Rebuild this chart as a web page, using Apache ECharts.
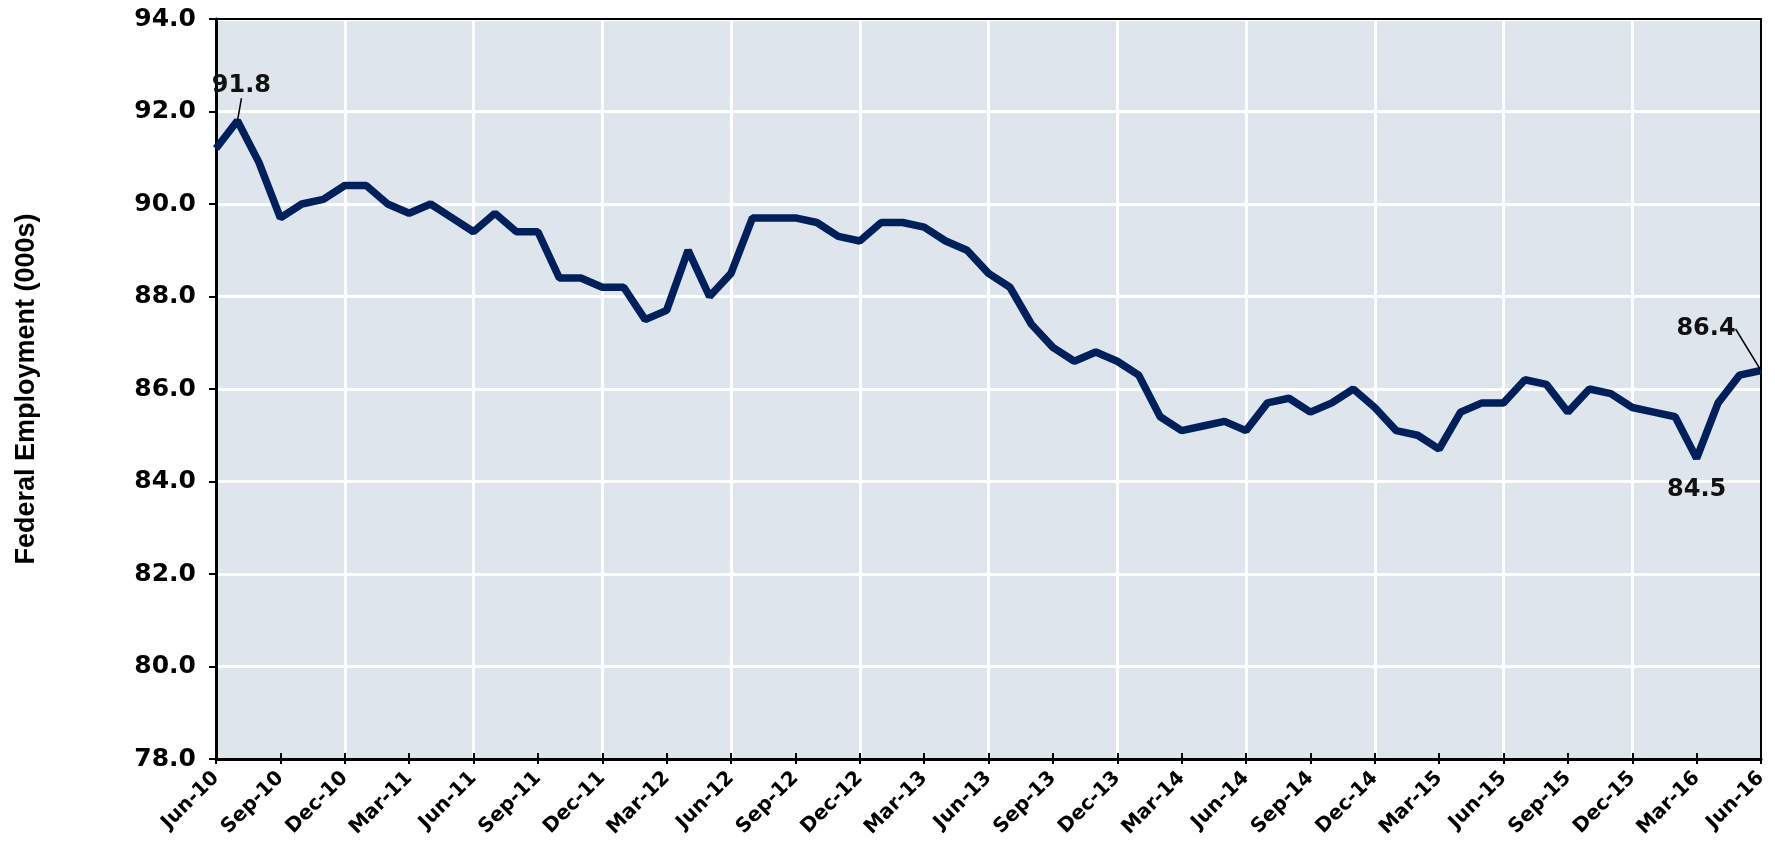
<!DOCTYPE html>
<html>
<head>
<meta charset="utf-8">
<script src="https://cdn.jsdelivr.net/npm/echarts@6/dist/echarts.min.js"></script>
<style>
  html, body { margin: 0; padding: 0; background: #fff; }
  #chart { width: 1775px; height: 845px; }
</style>
</head>
<body>
<div id="chart"></div>
<script>
const months = [
  'Jun-10','Jul-10','Aug-10','Sep-10','Oct-10','Nov-10','Dec-10','Jan-11','Feb-11','Mar-11','Apr-11','May-11',
  'Jun-11','Jul-11','Aug-11','Sep-11','Oct-11','Nov-11','Dec-11','Jan-12','Feb-12','Mar-12','Apr-12','May-12',
  'Jun-12','Jul-12','Aug-12','Sep-12','Oct-12','Nov-12','Dec-12','Jan-13','Feb-13','Mar-13','Apr-13','May-13',
  'Jun-13','Jul-13','Aug-13','Sep-13','Oct-13','Nov-13','Dec-13','Jan-14','Feb-14','Mar-14','Apr-14','May-14',
  'Jun-14','Jul-14','Aug-14','Sep-14','Oct-14','Nov-14','Dec-14','Jan-15','Feb-15','Mar-15','Apr-15','May-15',
  'Jun-15','Jul-15','Aug-15','Sep-15','Oct-15','Nov-15','Dec-15','Jan-16','Feb-16','Mar-16','Apr-16','May-16',
  'Jun-16'
];

// Federal employment, thousands
const employment = [
  91.2, 91.8, 90.9, 89.7, 90.0, 90.1, 90.4, 90.4, 90.0, 89.8, 90.0, 89.7,
  89.4, 89.8, 89.4, 89.4, 88.4, 88.4, 88.2, 88.2, 87.5, 87.7, 89.0, 88.0,
  88.5, 89.7, 89.7, 89.7, 89.6, 89.3, 89.2, 89.6, 89.6, 89.5, 89.2, 89.0,
  88.5, 88.2, 87.4, 86.9, 86.6, 86.8, 86.6, 86.3, 85.4, 85.1, 85.2, 85.3,
  85.1, 85.7, 85.8, 85.5, 85.7, 86.0, 85.6, 85.1, 85.0, 84.7, 85.5, 85.7,
  85.7, 86.2, 86.1, 85.5, 86.0, 85.9, 85.6, 85.5, 85.4, 84.5, 85.7, 86.3,
  86.4
];

// points that carry a value callout
const peakIdx = 1;
const lowIdx = 69;
const lastIdx = 72;

const FONT = '"DejaVu Sans", sans-serif';
const NAVY = '#00205B';

const calloutLabel = { show: true, fontFamily: FONT, fontWeight: 'bold', fontSize: 24, color: '#111',
  formatter: (p) => p.value.toFixed(1) };
const leader = { show: true, lineStyle: { color: '#000', width: 1.5 } };

const seriesData = employment.map((v, i) => {
  if (i === peakIdx) {
    return { value: v, label: { ...calloutLabel, position: 'top', distance: 22 }, labelLine: leader };
  }
  if (i === lastIdx) {
    return { value: v, label: { ...calloutLabel, position: 'top', distance: 5 }, labelLine: leader };
  }
  if (i === lowIdx) {
    return { value: v, label: { ...calloutLabel, position: 'bottom', distance: 19 } };
  }
  return v;
});

const chart = echarts.init(document.getElementById('chart'), null, { renderer: 'canvas' });

chart.setOption({
  animation: false,
  backgroundColor: '#fff',
  grid: { left: 216, right: 14, top: 19, bottom: 86, show: true, backgroundColor: '#DEE5EC', borderWidth: 0 },
  xAxis: [{
    type: 'category',
    data: months,
    boundaryGap: false,
    position: 'bottom',
    axisLine: { lineStyle: { color: '#000', width: 3 } },
    axisTick: { interval: 2, length: 5, lineStyle: { color: '#000', width: 2 } },
    axisLabel: { interval: 2, rotate: 45, margin: 16, fontFamily: FONT, fontWeight: 'bold', fontSize: 20, color: '#000' },
    splitLine: { show: true, interval: (i) => i % 6 === 0 && i !== 0 && i !== months.length - 1,
      lineStyle: { color: '#fff', width: 3 } }
  }, {
    type: 'category',
    data: months,
    boundaryGap: false,
    position: 'bottom',
    axisLine: { show: false },
    axisTick: { inside: true, interval: 2, length: 6, lineStyle: { color: '#000', width: 2 } },
    axisLabel: { show: false },
    splitLine: { show: false }
  }, {
    type: 'category',
    data: months,
    boundaryGap: false,
    position: 'top',
    axisLine: { lineStyle: { color: '#000', width: 2 } },
    axisTick: { show: false },
    axisLabel: { show: false },
    splitLine: { show: false }
  }],
  yAxis: [{
    type: 'value',
    min: 78,
    max: 94,
    interval: 2,
    position: 'left',
    name: 'Federal Employment (000s)',
    nameLocation: 'middle',
    nameGap: 176,
    nameTextStyle: { fontFamily: '"Liberation Sans", Arial, sans-serif', fontWeight: 'bold', fontSize: 27, color: '#000' },
    axisLine: { show: true, lineStyle: { color: '#000', width: 3 } },
    axisTick: { show: true, length: 7, lineStyle: { color: '#000', width: 2 } },
    axisLabel: { margin: 20, fontFamily: FONT, fontWeight: 'bold', fontSize: 25, color: '#000',
      formatter: (v) => v.toFixed(1) },
    splitLine: { show: true, lineStyle: { color: '#fff', width: 3 } }
  }, {
    type: 'value',
    min: 78,
    max: 94,
    interval: 2,
    position: 'right',
    axisLine: { show: true, lineStyle: { color: '#000', width: 2 } },
    axisTick: { show: false },
    axisLabel: { show: false },
    splitLine: { show: false }
  }],
  series: [{
    type: 'line',
    data: seriesData,
    xAxisIndex: 0,
    yAxisIndex: 0,
    symbol: 'circle',
    symbolSize: 1,
    showSymbol: true,
    itemStyle: { color: NAVY },
    lineStyle: { color: NAVY, width: 7.5 },
    z: 5,
    labelLayout: (p) => {
      if (p.dataIndex === peakIdx) return { dx: 4, dy: 0 };
      if (p.dataIndex === lastIdx) return { dx: -55, dy: -24 };
      return {};
    }
  }]
});
</script>
</body>
</html>
